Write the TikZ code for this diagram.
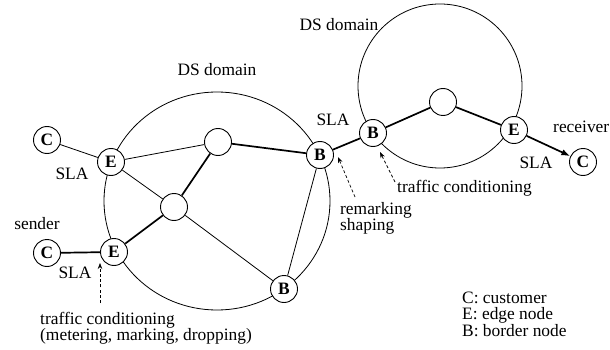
\documentclass[tikz,border=0pt]{standalone}
\usepackage{fontspec}
\setmainfont{Liberation Serif}
\usetikzlibrary{arrows.meta}
\begin{document}
\begin{tikzpicture}[x=1pt,y=-1pt,
  txt/.style={inner sep=0pt,font=\fontsize{17.4}{16.5}\selectfont},
  router/.style={circle,draw,line width=0.9pt,fill=white,minimum size=27pt,
    inner sep=0pt,font=\fontsize{17.4}{17}\selectfont\bfseries},
  dsarea/.style={draw,line width=0.8pt},
  link/.style={line width=0.8pt},
  trunk/.style={line width=1.7pt},
  hint/.style={line width=0.7pt,dash pattern=on 3pt off 2.2pt,
    -{Stealth[length=6pt,width=4.5pt]}}]
\useasboundingbox (0,0) rectangle (610,350);

% DS domains
\draw[dsarea] (217,201) ellipse [x radius=113pt, y radius=109pt];
\draw[dsarea] (440,86) circle [radius=82pt];

% routers
\node[router] (ct) at (47,140) {C};
\node[router] (et) at (111,162) {E};
\node[router] (nt) at (218,142) {};
\node[router] (nc) at (174,207) {};
\node[router] (eb) at (114,252) {E};
\node[router] (cb) at (47,253) {C};
\node[router] (bb) at (284,289) {B};
\node[router] (br) at (320,155) {B};
\node[router] (b2) at (373,133) {B};
\node[router] (n2) at (443,102) {};
\node[router] (e2) at (514,130) {E};
\node[router] (cr) at (583,162) {C};

% links
\draw[link] (ct) -- (et);
\draw[link] (et) -- (nt);
\draw[link] (et) -- (nc);
\draw[link] (nc) -- (bb);
\draw[link] (bb) -- (br);
\draw[trunk] (cb) -- (eb);
\draw[trunk] (eb) -- (nc);
\draw[trunk] (nc) -- (nt);
\draw[trunk] (nt) -- (br);
\draw[trunk] (br) -- (b2);
\draw[trunk] (b2) -- (n2);
\draw[trunk] (n2) -- (e2);
\draw[trunk,-{Latex[length=9pt,width=6.5pt]}] (e2) -- (cr);

% labels (base anchor of a multi-line node sits on its last line)
\node[txt,anchor=base] (dsl) at (217,76) {DS domain};
\node[txt,anchor=base] (dsr) at (339,31) {DS domain};
\node[txt,anchor=base] (sla1) at (72,179) {SLA};
\node[txt,anchor=base] (sla2) at (75,278) {SLA};
\node[txt,anchor=base] (sla3) at (333,126) {SLA};
\node[txt,anchor=base] (sla4) at (536,168) {SLA};
\node[txt,anchor=base] (snd) at (37,229) {sender};
\node[txt,anchor=base west] (rcv) at (553,132) {receiver};
\node[txt,anchor=base west,align=left] (tc1) at (40,340.5)
  {traffic conditioning\\(metering, marking, dropping)};
\node[txt,anchor=base west,align=left] (rms) at (340,230.5) {remarking\\shaping};
\node[txt,anchor=base west] (tc2) at (397,192) {traffic conditioning};
\node[txt,anchor=base west,align=left] (leg) at (462,336)
  {C: customer\\E: edge node\\B: border node};

% annotation arrows
\coordinate (h1s) at (100,303);
\coordinate (h1e) at (100,263);
\coordinate (h2s) at (355,197);
\coordinate (h2e) at (338,157);
\coordinate (h3s) at (395,182);
\coordinate (h3e) at (380,152);
\draw[hint] (h1s) -- (h1e);
\draw[hint] (h2s) -- (h2e);
\draw[hint] (h3s) -- (h3e);
\end{tikzpicture}
\end{document}
